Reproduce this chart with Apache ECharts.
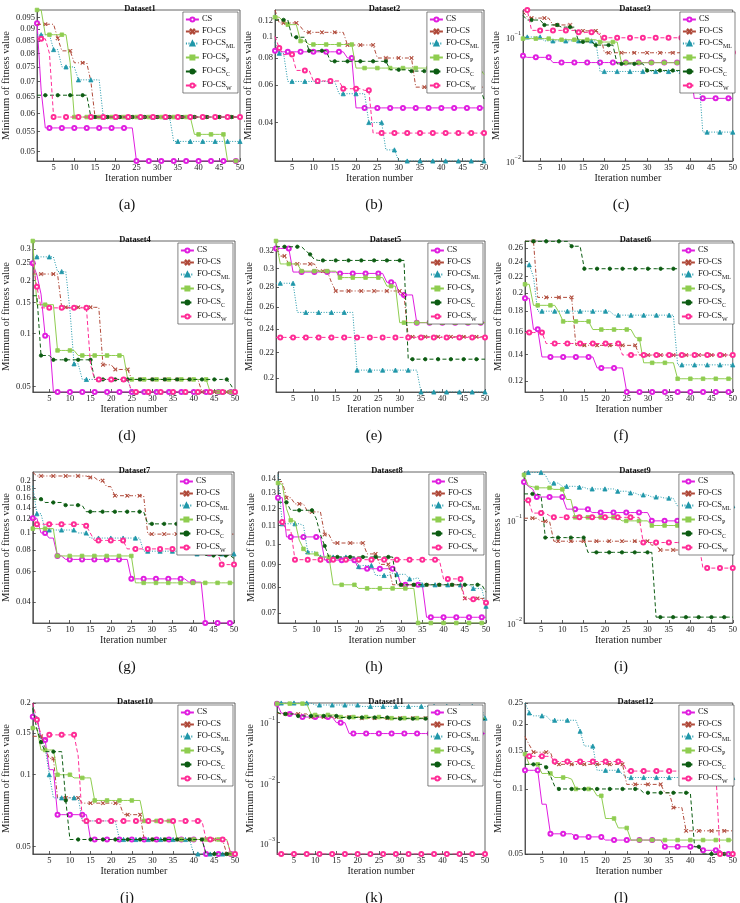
<!DOCTYPE html>
<html>
<head>
<meta charset="utf-8">
<title>Fitness convergence curves</title>
<script src="https://cdn.jsdelivr.net/npm/echarts@6/dist/echarts.min.js"></script>
<style>
  html, body { margin: 0; padding: 0; background: #fff; }
  #chart { width: 740px; height: 903px; }
</style>
</head>
<body>
<div id="chart"></div>
<script>
// iterations on the x axis
const iterations = Array.from({ length: 50 }, (_, i) => i + 1);
const xTicks = [5, 10, 15, 20, 25, 30, 35, 40, 45, 50];
const seriesNames = ['CS', 'FO-CS', 'FO-CS_ML', 'FO-CS_P', 'FO-CS_C', 'FO-CS_W'];
const captions = ['(a)', '(b)', '(c)', '(d)', '(e)', '(f)', '(g)', '(h)', '(i)', '(j)', '(k)', '(l)'];

// rows: CS, FO-CS, FO-CS_ML, FO-CS_P, FO-CS_C, FO-CS_W
const dataset1 = [
  [.0925,.067,.056,.056,.056,.056,.056,.056,.056,.056, .056,.056,.056,.056,.056,.056,.056,.056,.056,.056, .056,.056,.056,.056,.0478,.0478,.0478,.0478,.0478,.0478, .0478,.0478,.0478,.0478,.0478,.0478,.0478,.0478,.0478,.0478, .0478,.0478,.0478,.0478,.0478,.0478,.0478,.0478,.0478,.0478],
  [.092,.092,.092,.092,.092,.086,.081,.081,.081,.0765, .0765,.0765,.0765,.07,.059,.059,.059,.059,.059,.059, .059,.059,.059,.059,.059,.059,.059,.059,.059,.059, .059,.059,.059,.059,.059,.059,.059,.059,.059,.059, .059,.059,.059,.059,.059,.059,.059,.059,.059,.059],
  [.0875,.0875,.0875,.0875,.0815,.0815,.075,.075,.075,.075, .0705,.0705,.0705,.0705,.0705,.0705,.059,.059,.059,.059, .059,.059,.059,.059,.059,.059,.059,.059,.059,.059, .059,.059,.059,.0525,.0525,.0525,.0525,.0525,.0525,.0525, .0525,.0525,.0525,.0525,.0525,.0525,.0525,.0525,.0525,.0525],
  [.0985,.0985,.0875,.0875,.0875,.0875,.0875,.0875,.0765,.059, .059,.059,.059,.059,.059,.059,.059,.059,.059,.059, .059,.059,.059,.059,.059,.059,.059,.059,.059,.059, .059,.059,.059,.059,.059,.059,.059,.059,.0543,.0543, .0543,.0543,.0543,.0543,.0543,.0543,.0478,.0478,.0478,.0478],
  [.0655,.0655,.0655,.0655,.0655,.0655,.0655,.0655,.0655,.0655, .0655,.0655,.0655,.059,.059,.059,.059,.059,.059,.059, .059,.059,.059,.059,.059,.059,.059,.059,.059,.059, .059,.059,.059,.059,.059,.059,.059,.059,.059,.059, .059,.059,.059,.059,.059,.059,.059,.059,.059,.059],
  [.0858,.0858,.0858,.08,.059,.059,.059,.059,.059,.059, .059,.059,.059,.059,.059,.059,.059,.059,.059,.059, .059,.059,.059,.059,.059,.059,.059,.059,.059,.059, .059,.059,.059,.059,.059,.059,.059,.059,.059,.059, .059,.059,.059,.059,.059,.059,.059,.059,.059,.059]
];
const dataset2 = [
  [.0865,.0855,.0855,.0855,.0855,.0855,.0855,.0855,.0855,.0855, .0855,.0855,.0855,.0855,.0855,.0855,.0855,.08,.08,.0468, .0468,.0468,.0468,.0468,.0468,.0468,.0468,.0468,.0468,.0468, .0468,.0468,.0468,.0468,.0468,.0468,.0468,.0468,.0468,.0468, .0468,.0468,.0468,.0468,.0468,.0468,.0468,.0468,.0468,.0468],
  [.134,.1166,.1166,.1166,.1166,.1166,.112,.1054,.1054,.1054, .1054,.1054,.1054,.1054,.1054,.1054,.1054,.092,.092,.092, .092,.092,.092,.092,.08,.08,.08,.08,.08,.08, .08,.08,.08,.0585,.0585,.0585,.0585,.0585,.0585,.0585, .0585,.0585,.0585,.0585,.0585,.0585,.0585,.0585,.0585,.0585],
  [.0945,.0842,.0842,.0622,.0622,.0622,.0622,.0622,.0622,.0622, .0622,.0622,.0622,.0622,.0622,.0545,.0545,.0545,.0545,.0545, .0545,.0545,.04,.04,.04,.04,.0298,.0298,.0298,.02645, .02645,.02645,.02645,.02645,.02645,.02645,.02645,.02645,.02645,.02645, .02645,.02645,.02645,.02645,.02645,.02645,.02645,.02645,.02645,.02645],
  [.124,.124,.118,.1145,.1145,.1145,.096,.096,.0925,.0925, .0925,.0925,.0925,.0925,.0925,.0925,.0925,.0925,.0925,.0718, .0718,.0718,.0718,.0718,.0718,.0718,.0718,.0718,.0718,.0718, .0718,.0718,.0718,.0718,.0718,.0718,.0718,.0718,.0718,.0718, .0718,.0718,.0718,.0718,.0718,.0718,.0718,.0718,.0718,.067],
  [.1205,.1205,.1205,.1205,.1,.1,.1,.1,.0865,.0865, .0865,.0865,.0865,.0772,.0772,.0772,.0772,.0772,.0772,.0772, .0772,.0772,.0772,.0772,.0772,.0772,.0772,.0705,.0705,.0705, .0705,.0705,.0695,.0695,.0695,.0695,.0676,.0676,.0676,.0676, .0676,.0676,.0585,.0585,.0585,.0585,.0585,.0585,.0585,.0514],
  [.101,.089,.083,.083,.083,.07,.07,.07,.07,.0625, .0625,.0625,.0625,.0625,.0625,.0625,.0575,.0575,.0575,.0575, .0575,.0565,.0565,.0357,.0357,.0357,.0357,.0357,.0357,.0357, .0357,.0357,.0357,.0357,.0357,.0357,.0357,.0357,.0357,.0357, .0357,.0357,.0357,.0357,.0357,.0357,.0357,.0357,.0357,.0357]
];
const dataset3 = [
  [.0706,.0685,.0685,.0685,.0685,.0685,.0685,.0622,.0622,.0622, .0622,.0622,.0622,.0622,.0622,.0622,.0622,.0622,.0622,.0622, .0622,.0622,.0622,.0622,.0622,.0622,.0622,.0622,.0622,.0622, .0622,.0622,.0622,.0622,.0622,.0622,.0622,.0622,.0622,.0622, .032,.032,.032,.032,.032,.032,.032,.032,.032,.032],
  [.16,.145,.142,.142,.142,.142,.142,.125,.125,.125, .125,.125,.112,.112,.112,.112,.112,.112,.108,.0746, .0746,.0746,.0746,.0746,.0746,.0746,.0746,.0746,.0746,.0746, .0746,.0746,.0746,.0746,.0746,.0746,.0746,.0746,.0746,.0746, .0746,.0746,.0746,.0746,.0746,.0746,.0746,.0746,.0746,.0746],
  [.1,.1,.1,.1,.1,.093,.093,.093,.093,.093, .093,.093,.093,.093,.093,.093,.093,.093,.0527,.0527, .0527,.0527,.0527,.0527,.0527,.0527,.0527,.0527,.0527,.0527, .0527,.0527,.0527,.0527,.0527,.0527,.0527,.0527,.0527,.0527, .0527,.0527,.0171,.0171,.0171,.0171,.0171,.0171,.0171,.0171],
  [.097,.097,.097,.097,.097,.097,.097,.095,.095,.095, .095,.095,.095,.095,.095,.095,.095,.095,.091,.091, .091,.091,.091,.062,.062,.062,.062,.062,.062,.062, .062,.062,.062,.062,.062,.062,.062,.062,.062,.062, .062,.062,.062,.062,.062,.062,.062,.062,.062,.0565],
  [.149,.137,.137,.137,.137,.125,.125,.125,.125,.12, .12,.12,.12,.0913,.0913,.0913,.0913,.086,.086,.086, .086,.086,.0607,.0607,.0607,.0607,.0607,.0607,.0607,.0537, .0537,.0537,.0537,.0537,.0537,.0537,.0537,.0537,.0537,.0537, .0537,.0537,.0537,.0537,.0537,.0537,.0537,.0537,.0537,.055],
  [.165,.165,.113,.113,.113,.113,.113,.113,.113,.113, .113,.113,.113,.109,.109,.109,.109,.109,.104,.0985, .0985,.0985,.0985,.0985,.0985,.0985,.0985,.0985,.0985,.0985, .0985,.0985,.0985,.0985,.0985,.0985,.0985,.0985,.0985,.0985, .0985,.0985,.0985,.0985,.0985,.0985,.0985,.0985,.0985,.075]
];
const dataset4 = [
  [.25,.214,.167,.097,.097,.0465,.0465,.0465,.0465,.0465, .0465,.0465,.0465,.0465,.0465,.0465,.0465,.0465,.0465,.0465, .0465,.0465,.0465,.0465,.0465,.0465,.0465,.0465,.0465,.0465, .0465,.0465,.0465,.0465,.0465,.0465,.0465,.0465,.0465,.0465, .0465,.0465,.0465,.0465,.0465,.0465,.0465,.0465,.0465,.0465],
  [.217,.217,.217,.217,.217,.217,.217,.1405,.1405,.1405, .1405,.1405,.1405,.1405,.1405,.1405,.1405,.0663,.0663,.0663, .0624,.0624,.0624,.0624,.0548,.0548,.0548,.0548,.0548,.0548, .0548,.0548,.0548,.0548,.0548,.0548,.0548,.0548,.0548,.0548, .0548,.0465,.0465,.0465,.0465,.0465,.0465,.0465,.0465,.0465],
  [.2715,.2715,.2715,.2715,.2715,.2715,.224,.224,.224,.136, .0672,.0672,.0548,.0548,.0548,.0548,.0548,.0548,.0548,.0548, .0548,.0548,.0548,.0548,.0465,.0465,.0465,.0465,.0465,.0465, .0465,.0465,.0465,.0465,.0465,.0465,.0465,.0465,.0465,.0465, .0465,.0465,.0465,.0465,.0465,.0465,.0465,.0465,.0465,.0465],
  [.334,.1454,.1454,.1454,.1454,.1454,.08,.08,.08,.08, .08,.0749,.0749,.0749,.0749,.0749,.0749,.0749,.0749,.0749, .0749,.0749,.0749,.0548,.0548,.0548,.0548,.0548,.0548,.0548, .0548,.0548,.0548,.0548,.0548,.0548,.0548,.0548,.0548,.0548, .0548,.0548,.0548,.0465,.0465,.0465,.0465,.0465,.0465,.0465],
  [.1634,.1634,.0749,.0749,.0749,.0708,.0708,.0708,.0708,.0708, .0708,.0708,.0708,.0708,.0708,.0548,.0548,.0548,.0548,.0548, .0548,.0548,.0548,.0548,.0548,.0548,.0548,.0548,.0548,.0548, .0548,.0548,.0548,.0548,.0548,.0548,.0548,.0548,.0548,.0548, .0548,.0548,.0548,.0548,.0548,.0548,.0548,.0548,.051,.0465],
  [.25,.184,.1395,.1395,.1395,.1395,.1395,.1395,.1395,.1395, .1395,.1395,.1395,.1395,.0663,.0548,.0548,.0548,.0548,.0548, .0548,.0548,.0548,.0548,.0465,.0465,.0465,.0465,.0465,.0465, .0465,.0465,.0465,.0465,.0465,.0465,.0465,.0465,.0465,.0465, .0465,.0465,.0465,.0465,.0465,.0465,.0465,.0465,.0465,.0465]
];
const dataset5 = [
  [.323,.323,.323,.323,.296,.296,.296,.296,.296,.296, .296,.296,.296,.296,.296,.2945,.2945,.2945,.2945,.2945, .2945,.2945,.2945,.2945,.2945,.2945,.285,.285,.285,.272, .272,.272,.272,.2455,.2455,.2455,.2455,.2455,.2455,.2455, .2455,.2455,.2455,.2455,.2455,.2455,.2455,.2455,.2455,.2455],
  [.323,.314,.314,.305,.305,.305,.305,.305,.305,.305, .297,.297,.297,.285,.276,.276,.276,.276,.276,.276, .276,.276,.276,.276,.276,.276,.276,.276,.276,.276, .272,.233,.233,.233,.233,.233,.233,.233,.233,.233, .233,.233,.233,.233,.233,.233,.233,.233,.233,.233],
  [.284,.284,.284,.284,.284,.255,.255,.255,.255,.255, .255,.255,.255,.255,.255,.255,.255,.255,.255,.206, .206,.206,.206,.206,.206,.206,.206,.206,.206,.206, .206,.206,.206,.206,.19,.19,.19,.19,.19,.19, .19,.19,.19,.19,.19,.19,.19,.19,.19,.19],
  [.332,.305,.305,.305,.305,.305,.297,.297,.297,.297, .297,.297,.297,.297,.297,.29,.29,.29,.29,.29, .29,.29,.29,.29,.29,.29,.281,.281,.281,.2455, .2455,.2455,.2455,.2455,.2455,.2455,.2455,.2455,.2455,.2455, .2455,.2455,.2455,.2455,.2455,.2455,.2455,.2455,.2455,.2455],
  [.325,.325,.325,.325,.325,.325,.325,.32,.316,.31, .309,.309,.309,.309,.309,.309,.309,.309,.309,.309, .309,.309,.309,.309,.309,.309,.309,.309,.309,.309, .309,.2145,.2145,.2145,.2145,.2145,.2145,.2145,.2145,.2145, .2145,.2145,.2145,.2145,.2145,.2145,.2145,.2145,.2145,.2145],
  [.2325,.2325,.2325,.2325,.2325,.2325,.2325,.2325,.2325,.2325, .2325,.2325,.2325,.2325,.2325,.2325,.2325,.2325,.2325,.2325, .2325,.2325,.2325,.2325,.2325,.2325,.2325,.2325,.2325,.2325, .2325,.2325,.2325,.2325,.2325,.2325,.2325,.2325,.2325,.2325, .2325,.2325,.2325,.2325,.2325,.2325,.2325,.2325,.2325,.2325]
];
const dataset6 = [
  [.194,.194,.162,.162,.138,.138,.138,.138,.138,.138, .138,.138,.138,.138,.138,.138,.138,.1295,.1295,.1295, .1295,.1295,.1295,.1295,.1126,.1126,.1126,.1126,.1126,.1126, .1126,.1126,.1126,.1126,.1126,.1126,.1126,.1126,.1126,.1126, .1126,.1126,.1126,.1126,.1126,.1126,.1126,.1126,.1126,.1126],
  [.27,.27,.27,.195,.195,.195,.195,.195,.195,.195, .195,.195,.1476,.1476,.1476,.1476,.1476,.1476,.1476,.1476, .1476,.1476,.1476,.1476,.1476,.1476,.1476,.1395,.1395,.1395, .1395,.1395,.1395,.1395,.1395,.1395,.1395,.1395,.1395,.1395, .1395,.1395,.1395,.1395,.1395,.1395,.1395,.1395,.1395,.1395],
  [.2356,.2356,.2195,.18,.18,.18,.18,.18,.18,.18, .18,.18,.18,.18,.18,.18,.18,.18,.18,.18, .18,.1759,.1759,.1759,.1759,.1759,.1759,.1759,.1759,.1759, .1759,.1759,.1759,.1759,.1759,.1759,.1318,.1318,.1318,.1318, .1318,.1318,.1318,.1318,.1318,.1318,.1318,.1318,.1318,.1318],
  [.2104,.2104,.1862,.1862,.1862,.1862,.1862,.1862,.1791,.1696, .1696,.1696,.1696,.1696,.1696,.1696,.1618,.1618,.1618,.1618, .1618,.1618,.1618,.1618,.1618,.1618,.1548,.153,.1334,.1334, .1334,.1334,.1334,.1334,.1334,.1334,.1216,.1216,.1216,.1216, .1216,.1216,.1216,.1216,.1216,.1216,.1216,.1216,.1216,.1216],
  [.27,.27,.27,.27,.27,.27,.27,.27,.27,.27, .27,.2624,.2624,.2624,.2303,.2303,.2303,.2303,.2303,.2303, .2303,.2303,.2303,.2303,.2303,.2303,.2303,.2303,.2303,.2303, .2303,.2303,.2303,.2303,.2303,.2303,.2303,.2303,.2303,.2303, .2303,.2303,.2303,.2303,.2303,.2303,.2303,.2303,.2303,.1804],
  [.159,.159,.159,.159,.159,.1492,.1492,.1492,.1492,.1492, .1492,.1492,.1492,.1492,.1492,.1492,.1492,.1492,.1492,.1492, .1492,.1492,.1492,.1396,.1396,.1396,.1396,.1396,.1396,.1396, .1396,.1396,.1396,.1396,.1396,.1396,.1396,.1396,.1396,.1396, .1396,.1396,.1396,.1396,.1396,.1396,.1396,.1396,.1396,.1396]
];
const dataset7 = [
  [.1215,.1215,.1,.1,.0935,.0935,.0738,.0738,.0705,.0705, .0705,.0705,.0705,.0705,.0705,.0705,.0705,.0705,.0705,.0705, .0705,.0705,.0705,.0705,.0545,.0545,.0545,.0545,.0545,.0545, .0545,.0545,.0545,.0545,.0545,.0545,.0545,.0545,.0522,.0522, .0522,.0522,.0304,.0304,.0304,.0304,.0304,.0304,.0304,.0304],
  [.223,.2125,.2125,.2125,.2125,.2125,.2125,.2125,.2125,.2125, .2125,.2125,.2125,.2125,.2085,.2085,.2,.2,.1846,.1846, .1637,.1637,.1637,.1637,.1637,.1637,.1637,.1637,.0985,.0985, .0985,.0985,.0985,.0985,.0985,.0985,.0985,.0985,.0985,.0985, .0985,.0985,.0985,.0985,.0985,.0985,.0985,.0985,.0985,.0985],
  [.1865,.129,.129,.104,.104,.104,.104,.104,.104,.104, .104,.1,.1,.1,.0935,.0935,.0935,.0935,.0935,.0935, .0935,.0935,.0935,.0935,.0935,.0935,.0935,.0786,.0786,.0786, .0786,.0786,.0786,.0786,.0786,.0786,.0786,.0786,.0786,.0758, .0758,.0758,.0758,.0758,.0758,.0758,.0758,.0758,.0758,.0758],
  [.1059,.1059,.1059,.1059,.1059,.1059,.0738,.0738,.0738,.0738, .0738,.0738,.0738,.0738,.0738,.0738,.0738,.0738,.0738,.0738, .0738,.0738,.0738,.0738,.0738,.0517,.0517,.0517,.0517,.0517, .0517,.0517,.0517,.0517,.0517,.0517,.0517,.0517,.0517,.0517, .0517,.0517,.0517,.0517,.0517,.0517,.0517,.0517,.0517,.0517],
  [.1564,.1564,.1564,.1497,.1497,.1497,.1497,.1497,.1445,.1445, .1445,.1445,.1445,.1325,.1325,.1325,.1325,.1325,.1325,.1325, .1325,.1325,.1325,.1325,.1325,.1325,.1325,.1325,.1128,.1128, .1128,.1128,.1128,.1128,.1128,.1128,.1128,.1128,.1128,.1128, .1128,.1128,.0743,.0743,.0743,.0743,.0743,.0743,.0743,.0715],
  [.1215,.1122,.1122,.1122,.1122,.1122,.1122,.1122,.1122,.1122, .1122,.1122,.1122,.11,.1,.0906,.0906,.0906,.0906,.0906, .0906,.0906,.0906,.081,.081,.081,.081,.081,.081,.081, .081,.081,.081,.081,.081,.081,.081,.081,.081,.081, .081,.081,.0765,.0765,.0765,.0765,.0658,.0658,.0658,.0658]
];
const dataset8 = [
  [.127,.127,.1037,.1037,.1037,.1037,.1037,.1037,.1037,.1037, .1037,.092,.092,.092,.092,.092,.092,.092,.092,.088, .088,.088,.088,.088,.088,.088,.088,.088,.0865,.081, .081,.081,.081,.081,.081,.0685,.0685,.0685,.0685,.0685, .0685,.0685,.0685,.0685,.0685,.0685,.0685,.0685,.0685,.0685],
  [.138,.138,.127,.127,.123,.123,.123,.118,.118,.118, .118,.105,.105,.1005,.1005,.1005,.1005,.1005,.1005,.1005, .1005,.095,.095,.095,.09,.09,.09,.081,.081,.081, .081,.081,.081,.081,.081,.081,.081,.081,.081,.081, .081,.081,.081,.081,.0755,.0755,.0755,.0755,.0755,.0755],
  [.143,.111,.111,.111,.111,.111,.11,.096,.096,.096, .0935,.0935,.0935,.0935,.0935,.0935,.0935,.0935,.0935,.089, .0895,.0895,.0895,.085,.085,.085,.085,.086,.0855,.0855, .0855,.0835,.0835,.084,.081,.081,.081,.081,.081,.081, .081,.081,.081,.081,.081,.081,.0795,.0795,.0795,.0725],
  [.137,.136,.12,.113,.1125,.102,.0975,.095,.095,.095, .0935,.0935,.0935,.081,.081,.081,.081,.081,.081,.0795, .0795,.0795,.0795,.0795,.0795,.0795,.0795,.0795,.0795,.0795, .0795,.0795,.0795,.0665,.0665,.0665,.0665,.0665,.0665,.0665, .0665,.0665,.0665,.0665,.0665,.0665,.0665,.0665,.0665,.0665],
  [.124,.124,.124,.119,.119,.119,.119,.119,.119,.114, .105,.099,.0935,.0935,.0935,.0935,.0935,.0935,.0935,.0935, .0935,.0935,.0935,.0935,.0935,.0935,.0935,.0935,.081,.081, .081,.081,.081,.081,.081,.081,.081,.081,.081,.081, .081,.081,.081,.081,.081,.081,.081,.081,.081,.078],
  [.112,.112,.1075,.1075,.0922,.0922,.0922,.0922,.0922,.0922, .0922,.0922,.0922,.0922,.0922,.0922,.0922,.0922,.0922,.0922, .0922,.0922,.0922,.0922,.0922,.0922,.0922,.0922,.0922,.0922, .0922,.0922,.0922,.0922,.0922,.0922,.0922,.0922,.0922,.0835, .0835,.0835,.0835,.0835,.0752,.0752,.0752,.0752,.0752,.0738]
];
const dataset9 = [
  [.233,.212,.2,.167,.167,.167,.167,.167,.167,.167, .1273,.1273,.1273,.1273,.1273,.1273,.118,.118,.118,.118, .118,.118,.118,.118,.118,.118,.118,.118,.118,.118, .098,.098,.098,.098,.098,.098,.098,.098,.098,.098, .098,.098,.098,.098,.098,.098,.098,.098,.098,.098],
  [.104,.104,.104,.104,.097,.097,.097,.0622,.0622,.0622, .0622,.0622,.0622,.0622,.0622,.0622,.0622,.0622,.0622,.0622, .0622,.0622,.0622,.0622,.0622,.0622,.0622,.0622,.0622,.0622, .057,.057,.0511,.0511,.0511,.0511,.0511,.0511,.0511,.0511, .0511,.0511,.0511,.0511,.0511,.0511,.0511,.0511,.0511,.0511],
  [.289,.289,.289,.289,.289,.274,.228,.228,.228,.212, .212,.212,.212,.208,.208,.2,.2,.2,.2,.2, .2,.2,.19,.19,.19,.183,.183,.175,.175,.175, .167,.167,.167,.163,.163,.163,.137,.137,.137,.137, .137,.137,.137,.137,.137,.137,.137,.137,.137,.137],
  [.274,.215,.21,.205,.205,.205,.205,.198,.198,.198, .158,.158,.106,.106,.106,.106,.106,.106,.106,.106, .106,.106,.106,.098,.098,.098,.098,.098,.098,.098, .0883,.0883,.0883,.0883,.0883,.0883,.0883,.0883,.0883,.0883, .0883,.0883,.0883,.0883,.0883,.0883,.0883,.0883,.0883,.082],
  [.179,.179,.179,.179,.174,.0674,.0674,.0674,.0674,.0674, .0674,.0674,.0674,.0674,.0674,.0485,.0485,.0485,.0485,.0485, .0485,.0485,.0485,.0485,.0485,.0485,.0485,.0485,.0485,.0485, .0485,.0114,.0114,.0114,.0114,.0114,.0114,.0114,.0114,.0114, .0114,.0114,.0114,.0114,.0114,.0114,.0114,.0114,.0114,.0114],
  [.155,.155,.1166,.1166,.1166,.1166,.11,.106,.106,.106, .106,.106,.106,.106,.106,.106,.106,.106,.106,.106, .106,.106,.106,.106,.106,.106,.106,.106,.0604,.0604, .0604,.0604,.0604,.0604,.0604,.0604,.0604,.0604,.0604,.0604, .0604,.0604,.0341,.0341,.0341,.0341,.0341,.0341,.0341,.0341]
];
const dataset10 = [
  [.175,.175,.142,.14,.105,.105,.068,.068,.068,.068, .068,.068,.068,.068,.0535,.0535,.0535,.0535,.0535,.0535, .0535,.0535,.0535,.0535,.0535,.0535,.0535,.0535,.0535,.0535, .0535,.0535,.0535,.0535,.0535,.0535,.0535,.0535,.0535,.0535, .0535,.0535,.0465,.0465,.0465,.0465,.0465,.0465,.0465,.0465],
  [.145,.145,.145,.13,.117,.117,.08,.08,.08,.08, .08,.08,.076,.076,.076,.076,.076,.076,.076,.076, .076,.076,.068,.068,.068,.068,.068,.0535,.0535,.0535, .0535,.0535,.0535,.0535,.0535,.0535,.0535,.0535,.0535,.0535, .0535,.0535,.0535,.0535,.0535,.0535,.0535,.0465,.0465,.0465],
  [.185,.172,.14,.13,.1,.08,.08,.08,.08,.08, .08,.08,.064,.064,.064,.064,.064,.064,.064,.064, .064,.0535,.0535,.0535,.0535,.0535,.0535,.0535,.0535,.0535, .0535,.0535,.0535,.0535,.0535,.0535,.0535,.0535,.0535,.0465, .0465,.0465,.0465,.0465,.0465,.0465,.0465,.0465,.0465,.0465],
  [.157,.157,.127,.127,.127,.127,.1,.1,.1,.1, .097,.097,.097,.097,.097,.078,.078,.078,.078,.078, .078,.078,.078,.078,.078,.078,.078,.064,.064,.064, .064,.064,.064,.064,.064,.0535,.0535,.0535,.0535,.0535, .0535,.0535,.0535,.0535,.0535,.0535,.0535,.0535,.0465,.0465],
  [.19,.155,.137,.125,.125,.125,.125,.125,.078,.0535, .0535,.0535,.0535,.0535,.0535,.0535,.0535,.0535,.0535,.0535, .0535,.0535,.0535,.0535,.0535,.0535,.0535,.0535,.0535,.0535, .0535,.0535,.0535,.0535,.0535,.0535,.0535,.0535,.0535,.0535, .0535,.0535,.0465,.0465,.0465,.0465,.0465,.0465,.0465,.0465],
  [.2,.17,.147,.14,.147,.147,.147,.147,.147,.147, .147,.12,.064,.064,.064,.064,.064,.064,.064,.064, .064,.064,.064,.064,.064,.064,.064,.064,.064,.064, .064,.064,.064,.064,.064,.064,.064,.064,.064,.064, .064,.064,.0535,.0535,.0535,.0535,.0535,.0535,.0465,.0465]
];
const dataset11 = [
  [.2,.14,.135,.135,.135,.125,.12,.12,.12,.12, .12,.12,.12,.12,.097,.097,.097,.064,.064,.064, .064,.064,.064,.064,.064,.064,.064,.064,.064,.064, .064,.064,.064,.064,.064,.064,.064,.064,.064,.064, .064,.064,.064,.064,.064,.064,.064,.064,.064,.064],
  [.14,.135,.135,.135,.135,.135,.135,.135,.12,.12, .12,.12,.12,.12,.12,.12,.12,.12,.12,.12, .115,.115,.115,.115,.115,.115,.115,.115,.115,.115, .115,.115,.115,.115,.115,.115,.115,.115,.115,.115, .115,.115,.115,.115,.115,.115,.115,.115,.115,.11],
  [.205,.205,.205,.205,.205,.205,.205,.205,.205,.19, .19,.19,.19,.19,.19,.19,.19,.19,.19,.19, .18,.18,.18,.18,.18,.18,.18,.18,.18,.18, .18,.18,.18,.18,.18,.18,.18,.18,.18,.18, .18,.18,.18,.18,.18,.18,.18,.18,.18,.115],
  [.2,.2,.2,.2,.2,.2,.2,.2,.135,.13, .13,.13,.13,.13,.13,.12,.12,.12,.12,.12, .12,.12,.12,.12,.12,.115,.115,.115,.115,.115, .115,.115,.115,.115,.115,.115,.115,.115,.115,.115, .115,.115,.115,.115,.115,.115,.115,.115,.115,.115],
  [.145,.135,.135,.135,.135,.125,.125,.125,.125,.125, .125,.125,.125,.125,.125,.118,.118,.118,.118,.118, .118,.118,.118,.118,.118,.118,.118,.113,.113,.113, .113,.113,.113,.113,.113,.113,.113,.113,.113,.113, .11,.11,.11,.11,.11,.11,.11,.11,.11,.11],
  [.00065,.00065,.00065,.00065,.00065,.00065,.00065,.00065,.00065,.00065, .00065,.00065,.00065,.00065,.00065,.00065,.00065,.00065,.00065,.00065, .00065,.00065,.00065,.00065,.00065,.00065,.00065,.00065,.00065,.00065, .00065,.00065,.00065,.00065,.00065,.00065,.00065,.00065,.00065,.00065, .00065,.00065,.00065,.00065,.00065,.00065,.00065,.00065,.00065,.00065]
];
const dataset12 = [
  [.122,.122,.122,.122,.085,.085,.062,.062,.062,.062, .062,.062,.06,.06,.06,.06,.06,.06,.06,.058, .058,.058,.058,.058,.058,.058,.058,.058,.058,.058, .058,.058,.058,.054,.054,.054,.054,.054,.054,.054, .054,.054,.052,.052,.052,.052,.052,.05,.05,.05],
  [.175,.16,.148,.148,.148,.148,.148,.13,.13,.13, .13,.13,.13,.13,.13,.13,.13,.13,.13,.13, .13,.13,.13,.13,.105,.105,.105,.105,.105,.105, .105,.105,.105,.096,.096,.082,.082,.082,.064,.064, .064,.064,.064,.064,.064,.064,.064,.064,.064,.064],
  [.25,.225,.218,.218,.218,.218,.208,.208,.208,.208, .208,.208,.208,.185,.158,.158,.158,.122,.122,.122, .122,.122,.122,.117,.113,.113,.113,.113,.113,.113, .113,.113,.113,.113,.113,.113,.113,.113,.113,.113, .113,.113,.113,.113,.113,.113,.113,.113,.113,.113],
  [.145,.13,.13,.13,.118,.118,.118,.113,.113,.113, .113,.111,.1,.1,.1,.1,.1,.093,.093,.073, .073,.073,.066,.066,.066,.058,.058,.058,.058,.058, .058,.058,.058,.058,.058,.058,.058,.058,.058,.058, .058,.058,.058,.058,.058,.058,.058,.058,.058,.058],
  [.13,.13,.13,.13,.13,.126,.115,.103,.1,.1, .1,.1,.1,.1,.1,.1,.1,.1,.1,.1, .1,.1,.1,.1,.1,.1,.1,.1,.096,.096, .096,.096,.096,.096,.096,.096,.096,.096,.096,.096, .054,.054,.05,.05,.05,.05,.05,.05,.05,.05],
  [.1416,.1416,.1416,.1416,.1416,.1416,.1416,.134,.134,.134, .134,.134,.134,.134,.134,.134,.134,.134,.134,.134, .134,.134,.134,.134,.121,.121,.121,.121,.121,.121, .121,.121,.121,.121,.121,.121,.121,.121,.121,.121, .121,.121,.121,.121,.121,.121,.05,.05,.05,.05]
];

// y tick values and y limits of each panel (log scale)
const yTicks = [
  [0.05, 0.055, 0.06, 0.065, 0.07, 0.075, 0.08, 0.085, 0.09, 0.095],
  [0.04, 0.06, 0.08, 0.1, 0.12],
  [0.01, 0.1],
  [0.05, 0.1, 0.15, 0.2, 0.25, 0.3],
  [0.2, 0.22, 0.24, 0.26, 0.28, 0.3, 0.32],
  [0.12, 0.14, 0.16, 0.18, 0.2, 0.22, 0.24, 0.26],
  [0.04, 0.06, 0.08, 0.1, 0.12, 0.14, 0.16, 0.18, 0.2, 0.22],
  [0.07, 0.08, 0.09, 0.1, 0.11, 0.12, 0.13, 0.14],
  [0.01, 0.1],
  [0.05, 0.1, 0.15, 0.2],
  [0.001, 0.01, 0.1],
  [0.05, 0.1, 0.15, 0.2, 0.25]
];
const yLimits = [
  [0.0478, 0.0985], [0.02645, 0.134], [0.01, 0.165], [0.0465, 0.334],
  [0.19, 0.332], [0.1126, 0.2705], [0.0304, 0.224], [0.0665, 0.145],
  [0.01, 0.292], [0.0465, 0.2], [0.00065, 0.205], [0.05, 0.25]
];

const panels = [dataset1, dataset2, dataset3, dataset4, dataset5, dataset6,
  dataset7, dataset8, dataset9, dataset10, dataset11, dataset12];

// layout
const FONT = '"Liberation Serif", "DejaVu Serif", serif';
const rowTops = [10, 241, 472, 703];
const plotHeight = 151;
const boxX = [[30, 240], [275, 484], [523, 737], [25, 235], [276, 485], [525, 736],
  [25, 234], [278, 486], [524, 736], [25, 235], [277, 485], [525, 736]];
const yNameGap = [20, 17, 11, 17, 18, 18, 16, 18, 16, 15, 17, 15];
const captionX = [122, 369, 616];
const captionY = [193, 424, 655, 886];
const powerTickPanels = [2, 8, 10];

const colors = ['#e01ee0', '#b04a3a', '#1f97a9', '#8fcd50', '#0c5c12', '#ff2c96'];
const crossPath = 'path://M0,1L1,0L5,4L9,0L10,1L6,5L10,9L9,10L5,6L1,10L0,9L4,5Z';
const symbols = ['emptyCircle', crossPath, 'triangle', 'rect', 'circle', 'emptyCircle'];
const symbolSizes = [4, 3.5, 4.2, 3.6, 3.4, 4];
const dashes = ['solid', [4, 2, 1, 2], [1, 1.6], 'solid', [4, 2.5], [4, 2.5]];

function legendText(name) {
  const parts = name.split('_');
  return parts.length > 1 ? '{n|' + parts[0] + '}{s|' + parts[1] + '}' : '{n|' + name + '}';
}

function yLabel(ticks, power) {
  return function (v) {
    const t = ticks.find(t => Math.abs(Math.log10(t) - v) < 1e-9);
    if (t === undefined) return '';
    if (power) return '{b|10}{e|\u2212' + Math.round(-Math.log10(t)) + '}';
    return String(t);
  };
}

const option = {
  animation: false,
  backgroundColor: '#fff',
  textStyle: { fontFamily: FONT },
  title: [], grid: [], xAxis: [], yAxis: [], legend: [], series: []
};

panels.forEach((rows, p) => {
  const row = Math.floor(p / 3);
  const col = p % 3;
  const left = boxX[p][0];
  const right = boxX[p][1];
  const top = rowTops[row];
  const ticks = yTicks[p];
  const logTicks = ticks.map(t => Math.log10(t));
  const power = powerTickPanels.includes(p);

  option.grid.push({
    left: left, top: top, width: right - left, height: plotHeight,
    show: true, borderColor: '#3c3c3c', borderWidth: 0.8
  });

  option.title.push({
    text: 'Dataset' + (p + 1),
    left: (left + right) / 2, top: top - 11, textAlign: 'center',
    textStyle: { fontFamily: FONT, fontSize: 8.5, fontWeight: 'bold', color: '#111' }
  });
  option.title.push({
    text: captions[p],
    left: captionX[col], top: captionY[row], textAlign: 'center',
    textStyle: { fontFamily: FONT, fontSize: 15, fontWeight: 'normal', color: '#111' }
  });

  option.xAxis.push({
    gridIndex: p, type: 'value', min: 1, max: 50,
    name: 'Iteration number', nameLocation: 'middle', nameGap: 12,
    nameTextStyle: { fontFamily: FONT, fontSize: 10, color: '#222' },
    axisLine: { show: true, lineStyle: { color: '#3c3c3c', width: 0.8 } },
    axisTick: { inside: true, length: 3, customValues: xTicks, lineStyle: { color: '#3c3c3c', width: 0.8 } },
    axisLabel: { customValues: xTicks, fontFamily: FONT, fontSize: 8.5, color: '#222', margin: 2 },
    splitLine: { show: false }
  });

  option.yAxis.push({
    gridIndex: p, type: 'value',
    min: Math.log10(yLimits[p][0]), max: Math.log10(yLimits[p][1]),
    name: 'Minimum of fitness value', nameLocation: 'middle', nameGap: yNameGap[p],
    nameTextStyle: { fontFamily: FONT, fontSize: 10.5, color: '#222' },
    axisLine: { show: true, lineStyle: { color: '#3c3c3c', width: 0.8 } },
    axisTick: { inside: true, length: 3, customValues: logTicks, lineStyle: { color: '#3c3c3c', width: 0.8 } },
    axisLabel: {
      customValues: logTicks, formatter: yLabel(ticks, power),
      fontFamily: FONT, fontSize: 8.5, color: '#222', margin: 2,
      rich: {
        b: { fontFamily: FONT, fontSize: 8.5, lineHeight: 13, verticalAlign: 'bottom', color: '#222' },
        e: { fontFamily: FONT, fontSize: 6, lineHeight: 13, verticalAlign: 'top', color: '#222' }
      }
    },
    splitLine: { show: false }
  });

  option.legend.push({
    data: seriesNames, orient: 'vertical',
    right: 740 - right + 2, top: top + 2,
    itemWidth: 13, itemHeight: 5, itemGap: 3,
    padding: [2, 3, 2, 2],
    backgroundColor: '#fff', borderColor: '#333', borderWidth: 0.6, borderRadius: 0,
    selectedMode: false,
    formatter: legendText,
    textStyle: {
      fontFamily: FONT, fontSize: 8.5, color: '#111', padding: [0, 0, 0, -2],
      rich: {
        n: { fontFamily: FONT, fontSize: 8.5, lineHeight: 11, verticalAlign: 'top', color: '#111' },
        s: { fontFamily: FONT, fontSize: 6, lineHeight: 11, verticalAlign: 'bottom', color: '#111' }
      }
    }
  });

  rows.forEach((vals, s) => {
    option.series.push({
      type: 'line', name: seriesNames[s],
      xAxisIndex: p, yAxisIndex: p,
      data: iterations.map((it, k) => [it, Math.log10(vals[k])]),
      symbol: symbols[s],
      symbolSize: (v, prm) => ((prm.dataIndex + s) % 3 === 0 ? symbolSizes[s] : 0),
      showAllSymbol: true,
      lineStyle: { color: colors[s], width: 1, type: dashes[s] },
      itemStyle: { color: colors[s], borderColor: colors[s], borderWidth: 0.8 },
      emphasis: { disabled: true },
      z: 2 + s * 0.1
    });
  });
});

const chart = echarts.init(document.getElementById('chart'), null, { renderer: 'canvas' });
chart.setOption(option);
</script>
</body>
</html>
